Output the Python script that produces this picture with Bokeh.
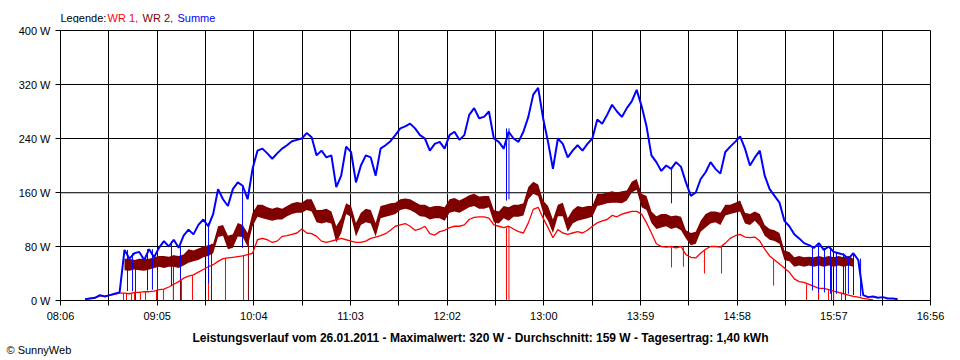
from bokeh.plotting import figure
from bokeh.models import FixedTicker, Range1d, Label, Span, PrintfTickFormatter
from bokeh.layouts import column
from bokeh.embed import file_html
from bokeh.resources import INLINE

NaN = float("nan")

# ---------------- data ----------------
x_tick_labels = ["08:06", "09:05", "10:04", "11:03", "12:02", "13:00", "13:59", "14:58", "15:57", "16:56"]
y_ticks = [0, 80, 160, 240, 320, 400]

series_names = ["WR 1", "WR 2", "Summe"]
datum = "26.01.2011"
max_w = 320
avg_w = 159
energy_kwh = "1,40"

sample_start = "08:18"   # first sample time
sample_step_min = 3      # minutes between samples

# Summe (blue), W
summe = [
    NaN, 2, 3, 4, 8, 6, 8, 10, 12, 75, 62, 70, 72, 60,                                  # 08:18-08:57
    76, 64, 78, 88, 80, 90, 78, 96, 105, 98, 112, 120, 110, 128, 165, 150, 140, 165, 175, 170,   # 09
    150, 195, 222, 225, 218, 210, 218, 225, 230, 236, 238, 240, 248, 242, 215, 222, 212, 215, 168, 185,  # 10
    228, 220, 175, 200, 215, 212, 185, 225, 230, 236, 245, 255, 258, 262, 255, 245, 240, 222, 232, 235,  # 11
    225, 245, 250, 238, 245, 275, 285, 270, 272, 280, 240, 235, 225, 250, 240, 235, 250, 272, 305, 315,  # 12
    270, 235, 195, 240, 232, 212, 222, 230, 222, 232, 240, 268, 262, 275, 290, 280, 272, 285, 295, 312,  # 13
    288, 258, 215, 205, 192, 200, 195, 205, 198, 175, 155, 160, 180, 190, 205, 195, 188, 220, 228, 235,  # 14
    243, 225, 200, 212, 222, 185, 165, 155, 145, 118, 110, 98, 92, 85, 82, 78, 85, 75, 80, 72,          # 15
    70, 68, 62, 70, 60, 8, 5, 6, 4, 5, 3, 3, 2, NaN,                                    # 16:00-16:39
]

# WR 1 (red), W
wr1 = [
    NaN, 2, 3, 4, 7, 6, 8, 9, 11, 11, 10, 12, 12, 13,
    13, 14, 16, 17, 20, 24, 28, 33, 36, 38, 42, 46, 50, 53, 58, 62, 63, 64, 65, 66,
    68, 70, 90, 92, 90, 86, 88, 95, 96, 98, 100, 106, 100, 99, 95, 88, 86, 88, 90, 92,
    90, 88, 86, 86, 88, 92, 94, 96, 99, 104, 110, 112, 114, 110, 104, 106, 110, 99, 97, 102,
    104, 108, 110, 110, 112, 120, 123, 124, 124, 122, 112, 110, 108, 110, 106, 102, 100, 115, 135, 138,
    122, 108, 93, 105, 100, 98, 100, 102, 100, 104, 110, 115, 118, 120, 126, 124, 128, 130, 132, 132,
    128, 115, 100, 84, 80, 79, 80, 78, 80, 68, 64, 63, 70, 76, 80, 80, 79, 85, 92, 96,
    98, 94, 93, 94, 88, 76, 66, 60, 54, 48, 42, 32, 28, 27, 24, 21, 18, 18, 16, 14,
    12, 10, 8, 6, 5, 3, 2, 1, NaN, NaN, NaN, NaN, NaN, NaN,
]

# WR 2 (dark red): lower and upper edge of its rapidly alternating trace, W
wr2_lo = [
    NaN, NaN, NaN, NaN, NaN, NaN, NaN, NaN, NaN, 45, 44, 46, 45, 44,
    46, 48, 50, 48, 50, 50, 48, 52, 56, 58, 60, 64, 66, 70, 94, 96, 76, 78, 95, 94,
    80, 110, 124, 122, 120, 118, 120, 120, 125, 128, 130, 130, 134, 132, 116, 114, 116, 114, 86, 100,
    128, 124, 95, 112, 116, 114, 95, 122, 124, 126, 128, 134, 136, 134, 130, 125, 124, 120, 122, 122,
    118, 130, 132, 130, 134, 138, 140, 136, 136, 138, 116, 114, 122, 118, 124, 124, 126, 150, 158, 155,
    130, 118, 100, 125, 125, 102, 114, 118, 120, 122, 124, 140, 142, 144, 145, 145, 144, 148, 160, 164,
    138, 134, 115, 106, 108, 110, 106, 108, 104, 92, 82, 84, 102, 108, 114, 116, 112, 126, 128, 130,
    132, 114, 112, 118, 110, 96, 90, 88, 84, 60, 58, 50, 52, 50, 52, 50, 52, 50, 52, 50,
    52, 50, 52, 50, NaN, NaN, NaN, NaN, NaN, NaN, NaN, NaN, NaN, NaN,
]
wr2_hi = [
    NaN, NaN, NaN, NaN, NaN, NaN, NaN, NaN, NaN, 62, 62, 60, 62, 62,
    62, 64, 66, 66, 65, 67, 66, 68, 76, 74, 77, 80, 82, 84, 110, 112, 96, 98, 115, 112,
    100, 130, 142, 142, 138, 136, 138, 136, 140, 144, 146, 145, 150, 150, 134, 134, 136, 132, 110, 122,
    144, 140, 115, 130, 136, 134, 115, 140, 142, 144, 145, 150, 151, 150, 146, 142, 142, 138, 140, 140,
    138, 150, 152, 148, 152, 156, 158, 154, 155, 155, 134, 132, 140, 138, 142, 142, 144, 168, 176, 172,
    148, 140, 120, 142, 145, 122, 134, 140, 138, 140, 140, 158, 158, 160, 162, 160, 162, 163, 176, 180,
    158, 155, 132, 125, 128, 128, 125, 126, 124, 104, 100, 102, 118, 128, 132, 132, 130, 142, 142, 145,
    148, 130, 128, 132, 128, 112, 106, 104, 100, 74, 72, 64, 66, 64, 65, 64, 66, 64, 66, 64,
    66, 64, 66, 62, NaN, NaN, NaN, NaN, NaN, NaN, NaN, NaN, NaN, NaN,
]

# short dropouts (time, level before, level reached)
wr1_drop_time = ["08:44:24", "08:46:12", "08:49:18", "08:51:06", "08:54:42", "08:57:48", "09:04:30",
                 "09:08:42", "09:14:48", "09:19:42", "09:26:24", "09:36:12", "09:46:30", "09:57:30",
                 "12:37:42", "12:39:12", "14:18:12", "14:25:30", "14:38:18", "14:48:42", "15:20:24",
                 "15:40:30", "15:47:48", "15:53:54", "15:57:00", "16:01:48"]
wr1_drop_top = [11, 11, 11, 12, 12, 13, 14, 17, 24, 30, 37, 50, 62, 66,
                108, 110, 80, 80, 74, 80, 60, 24, 18, 16, 14, 11]
wr1_drop_low = [0, 0, 0, 0, 0, 0, 0, 0, 0, 0, 0, 0, 0, 0,
                0, 0, 49, 50, 40, 40, 22, 0, 0, 0, 0, 0]

wr2_drop_time = ["08:51:42", "09:05:06", "09:14:48", "09:19:06", "09:38:00", "10:00:30",
                 "15:47:48", "15:55:42", "16:04:12"]
wr2_drop_top = [60, 66, 67, 66, 84, 100, 64, 64, 64]
wr2_drop_low = [0, 0, 0, 0, 0, 0, 0, 0, 0]

summe_drop_time = ["08:46:48", "08:49:54", "08:59:00", "09:02:00", "09:13:36", "09:19:06", "09:36:12",
                   "09:56:54", "12:37:42", "12:39:12", "14:18:12", "15:44:06", "15:47:48", "15:51:24",
                   "15:55:06", "15:58:42", "16:03:00", "16:06:00", "16:09:06", "16:13:24"]
summe_drop_top = [75, 70, 76, 76, 88, 80, 115, 170, 255, 255, 195, 80, 82, 78, 78, 72, 70, 65, 68, 62]
summe_drop_low = [14, 14, 15, 16, 22, 32, 25, 78, 148, 150, 144, 15, 12, 12, 10, 10, 10, 10, 8, 6]

# ---------------- helpers ----------------
def minutes(s):
    parts = [int(v) for v in s.split(":")]
    while len(parts) < 3:
        parts.append(0)
    return parts[0] * 60 + parts[1] + parts[2] / 60.0


n = len(summe)
assert len(wr1) == n and len(wr2_lo) == n and len(wr2_hi) == n
t0 = minutes(sample_start)
times = [t0 + i * sample_step_min for i in range(n)]


def finite(xs, *ys):
    keep = [i for i in range(len(xs)) if all(y[i] == y[i] for y in ys)]
    return [xs[i] for i in keep], [[y[i] for i in keep] for y in ys]


RED = "#ff0000"
DARK = "#800000"
BLUE = "#0000ff"
FONT = "Liberation Sans"
W = 956
FL = 60          # left edge of the main chart's frame
FR = 930         # right edge of the main chart's frame

x_start = minutes(x_tick_labels[0])
x_end = minutes(x_tick_labels[-1])
k = len(x_tick_labels) - 1
major = [x_start + i * (x_end - x_start) / k for i in range(k + 1)]
minor = [(major[i] + major[i + 1]) / 2 for i in range(k)]


def text_strip(height):
    f = figure(width=W, height=height, output_backend="svg", toolbar_location=None, title=None,
               x_axis_location=None, y_axis_location=None, frame_align=False,
               min_border=0, min_border_left=0, min_border_right=0, min_border_top=0, min_border_bottom=0)
    f.outline_line_color = None
    f.background_fill_color = "white"
    f.border_fill_color = "white"
    f.grid.visible = False
    return f


# ---------------- header (legend line) ----------------
head = text_strip(23)
legend_parts = [("Legende: ", "black", FL), (series_names[0] + ",", RED, FL + 47),
                (series_names[1] + ",", DARK, FL + 82), (series_names[2], BLUE, FL + 117)]
for txt, col, xpos in legend_parts:
    head.add_layout(Label(x=xpos, y=6, x_units="screen", y_units="screen", text=txt,
                          text_color=col, text_font=FONT, text_font_size="11px",
                          text_align="left", text_baseline="middle"))

# ---------------- main chart ----------------
p = figure(width=W, height=301, output_backend="svg", toolbar_location=None, title=None,
           frame_align=False,
           x_range=Range1d(x_start, x_end), y_range=Range1d(y_ticks[0], y_ticks[-1]),
           min_border_left=FL, min_border_right=W - FR, min_border_top=7, min_border_bottom=24)
p.background_fill_color = "white"
p.border_fill_color = "white"
p.outline_line_color = "black"
p.outline_line_width = 1

xt = FixedTicker(ticks=major, minor_ticks=minor)
yt = FixedTicker(ticks=y_ticks)
p.xaxis.ticker = xt
p.xgrid.ticker = xt
p.yaxis.ticker = yt
p.ygrid.ticker = yt
p.xaxis.major_label_overrides = {major[i]: x_tick_labels[i] for i in range(len(major))}
p.yaxis.formatter = PrintfTickFormatter(format="%d W")

for ax in (p.xaxis[0], p.yaxis[0]):
    ax.axis_line_color = "black"
    ax.major_tick_line_color = "black"
    ax.minor_tick_line_color = "black"
    ax.major_tick_out = 5
    ax.major_tick_in = 0
    ax.minor_tick_out = 5
    ax.minor_tick_in = 0
    ax.major_label_text_font = FONT
    ax.major_label_text_font_size = "11px"
    ax.major_label_text_color = "black"
p.xaxis.major_label_standoff = 4
p.yaxis.major_label_standoff = 5

for g in (p.xgrid[0], p.ygrid[0]):
    g.grid_line_color = "black"
    g.grid_line_alpha = 1.0
    g.grid_line_width = 1
p.xgrid.minor_grid_line_color = "black"
p.xgrid.minor_grid_line_alpha = 1.0

# average line (grey)
p.add_layout(Span(location=avg_w, dimension="width", line_color="#a0a0a0", line_width=1, level="underlay"))

# WR 2 band
tx, (lo, hi) = finite(times, wr2_lo, wr2_hi)
p.varea(x=tx, y1=lo, y2=hi, fill_color=DARK)
d = [minutes(s) for s in wr2_drop_time]
p.segment(x0=d, y0=wr2_drop_top, x1=d, y1=wr2_drop_low, line_color=DARK, line_width=1)

# WR 1
tx, (v,) = finite(times, wr1)
p.line(tx, v, line_color=RED, line_width=1.3)
d = [minutes(s) for s in wr1_drop_time]
p.segment(x0=d, y0=wr1_drop_top, x1=d, y1=wr1_drop_low, line_color=RED, line_width=1)

# Summe
tx, (v,) = finite(times, summe)
p.line(tx, v, line_color=BLUE, line_width=2)
d = [minutes(s) for s in summe_drop_time]
p.segment(x0=d, y0=summe_drop_top, x1=d, y1=summe_drop_low, line_color=BLUE, line_width=1)

# ---------------- footer (title + copyright) ----------------
foot = text_strip(32)
title = (f"Leistungsverlauf vom {datum} - Maximalwert: {max_w} W - "
         f"Durchschnitt: {avg_w} W - Tagesertrag: {energy_kwh} kWh")
foot.add_layout(Label(x=480, y=19, x_units="screen", y_units="screen", text=title,
                      text_color="black", text_font=FONT, text_font_size="12px", text_font_style="bold",
                      text_align="center", text_baseline="middle"))
foot.add_layout(Label(x=6, y=7, x_units="screen", y_units="screen", text="\u00a9 SunnyWeb",
                      text_color="black", text_font=FONT, text_font_size="11px",
                      text_align="left", text_baseline="middle"))

layout = column(head, p, foot, spacing=0)
open("out.html", "w").write(file_html(layout, INLINE))
